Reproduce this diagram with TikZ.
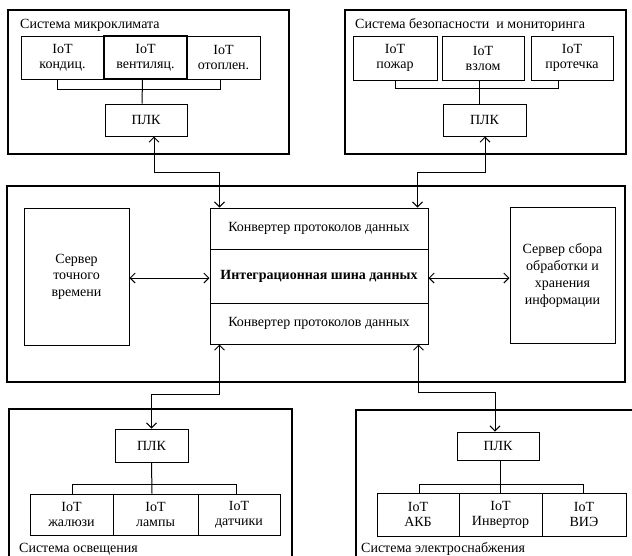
\documentclass[tikz,border=0pt]{standalone}
\usepackage{fontspec}
\setmainfont{Liberation Serif}
\usetikzlibrary{arrows.meta,calc}
\begin{document}
\begin{tikzpicture}[x=1pt,y=-1pt,
  frame/.style={draw,line width=2.2pt},
  box/.style={draw,line width=1pt,inner sep=0pt,align=center,font=\fontsize{14}{15}\selectfont},
  wire/.style={line width=1pt},
  arr/.style={line width=1pt,{Straight Barb[length=5pt,width=10pt]}-{Straight Barb[length=5pt,width=10pt]}},
  ttl/.style={anchor=west,inner sep=0pt,font=\fontsize{14}{15}\selectfont}
]
\useasboundingbox (0,0) rectangle (632,555);
\fill[white] (0,0) rectangle (632,555);
% ---------- top left
\node[frame,minimum width=281,minimum height=144] (fTL) at (148.5,82) {};
\node[ttl] (tTL) at (20,25) {Система микроклимата};
\node[box,minimum width=83,minimum height=43] (a1) at (62.5,57.5) {IoT\\кондиц.};
\node[box,line width=1.6pt,minimum width=83,minimum height=43] (a2) at (145.5,57.5) {IoT\\вентиляц.};
\node[box,minimum width=73,minimum height=43] (a3) at (223.5,57.5) {IoT\\отоплен.};
\node[box,minimum width=82,minimum height=32] (pTL) at (146,120) {ПЛК};
\draw[wire] ($(a1.south)+(-5,0)$) -- ++(0,10) -| ($(a3.south)+(-3,0)$);
\draw[wire] ($(a2.south)+(-3,0)$) -- ($(pTL.north)+(-4,0)$);
% ---------- top right
\node[frame,minimum width=281,minimum height=144] (fTR) at (485.5,82) {};
\node[ttl] (tTR) at (355,25) {Система безопасности\ \ и мониторинга};
\node[box,minimum width=84,minimum height=44] (b1) at (395,58) {IoT\\пожар};
\node[box,minimum width=82,minimum height=44] (b2) at (483,58) {IoT\\взлом};
\node[box,minimum width=82,minimum height=44] (b3) at (572,58) {IoT\\протечка};
\node[box,minimum width=83,minimum height=32] (pTR) at (484.5,120) {ПЛК};
\draw[wire] (b1.south) -- ++(0,8) -| ($(b3.south)+(-14,0)$);
\draw[wire] ($(b2.south)+(-4,0)$) -- ($(pTR.north)+(-5.5,0)$);
% ---------- main
\node[frame,minimum width=618,minimum height=196] (fM) at (316,284) {};
\node[box,minimum width=218,minimum height=41] (c1) at (319,228.5) {Конвертер протоколов данных};
\node[box,minimum width=218,minimum height=54,font=\fontsize{14}{15}\selectfont\bfseries] (bus) at (319,276) {Интеграционная шина данных};
\node[box,minimum width=218,minimum height=41] (c2) at (319,323.5) {Конвертер протоколов данных};
\node[box,minimum width=105,minimum height=137,font=\fontsize{14}{16.5}\selectfont] (sL) at (76.5,276.5) {Сервер\\точного\\времени};
\node[box,minimum width=105,minimum height=136,font=\fontsize{14}{17}\selectfont] (sR) at (562.5,275) {Сервер сбора\\обработки и\\хранения\\информации};
\draw[arr] (sL.east |- 0,278) -- (bus.west |- 0,278);
\draw[arr] (bus.east |- 0,278) -- (sR.west |- 0,278);
% arrows top
\draw[arr] ($(pTL.south)+(8,0)$) |- ($(c1.north west)+(10,-35)$) -- ($(c1.north west)+(10,0)$);
\draw[arr] ($(pTR.south)+(0.5,0)$) |- ($(c1.north east)+(-11,-35)$) -- ($(c1.north east)+(-11,0)$);
% ---------- bottom left
\draw[frame] (9,556) -- (9,409) -- (292,409) -- (292,556);
\node[box,minimum width=73,minimum height=33] (pBL) at (151.5,445.5) {ПЛК};
\node[box,minimum width=83,minimum height=41] (d1) at (71.5,514.5) {IoT\\жалюзи};
\node[box,minimum width=85,minimum height=41] (d2) at (155.5,514.5) {IoT\\лампы};
\node[box,minimum width=82,minimum height=41] (d3) at (239,514.5) {IoT\\датчики};
\draw[wire] (pBL.south) -- ($(d2.north)+(-3.5,0)$);
\draw[wire] ($(d1.north)+(0.5,0)$) -- ++(0,-9) -| ($(d3.north)+(-3,0)$);
\node[ttl] (tBL) at (19,549) {Система освещения};
\draw[arr] ($(c2.south west)+(10,0)$) |- ($(pBL.north)+(0,-34)$) -- (pBL.north);
% ---------- bottom right
\draw[frame] (356,556) -- (356,410) -- (633,410);
\node[box,minimum width=82,minimum height=28] (pBR) at (498,446) {ПЛК};
\node[box,minimum width=82,minimum height=43] (e1) at (418,514.5) {IoT\\АКБ};
\node[box,minimum width=83,minimum height=43] (e2) at (500.5,514.5) {IoT\\Инвертор};
\node[box,minimum width=84,minimum height=43] (e3) at (584,514.5) {IoT\\ВИЭ};
\draw[wire] ($(pBR.south)+(2,0)$) -- ($(e2.north)+(-0.5,0)$);
\draw[wire] ($(e1.north)+(1,0)$) -- ++(0,-8) -| ($(e3.north)+(-1,0)$);
\node[ttl] (tBR) at (361,549) {Система электроснабжения};
\draw[arr] ($(c2.south east)+(-10,0)$) |- ($(pBR.north)+(-3,-39)$) -- ($(pBR.north)+(-3,0)$);
\end{tikzpicture}
\end{document}
